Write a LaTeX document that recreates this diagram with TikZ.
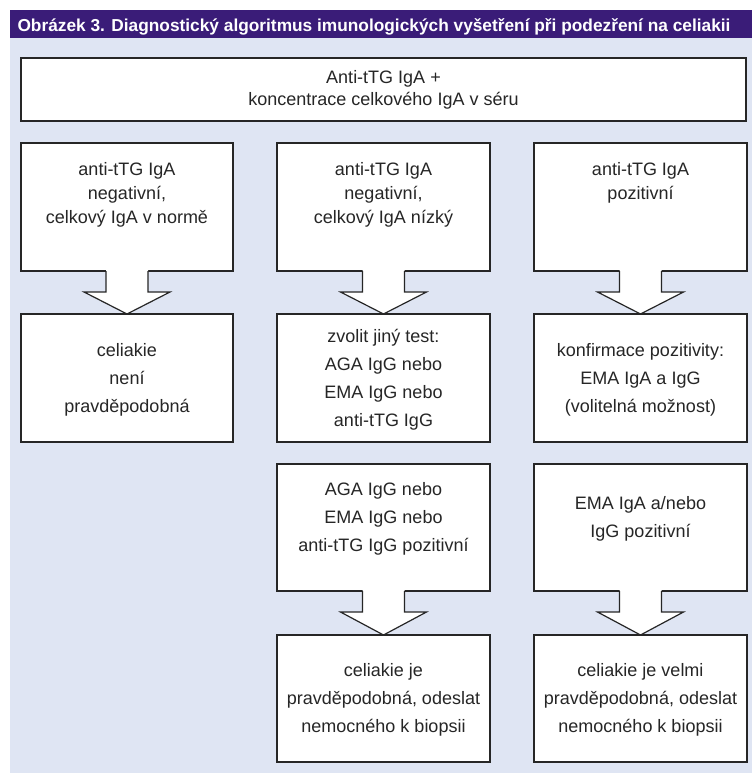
\documentclass[tikz,border=0pt]{standalone}
\usepackage{fontspec}
\setmainfont{Liberation Sans}
\usetikzlibrary{calc}
\definecolor{bgblue}{HTML}{DFE5F3}
\definecolor{hdr}{HTML}{3A1C78}
\definecolor{ink}{HTML}{262626}
\begin{document}
\begin{tikzpicture}[x=1pt,y=-1pt,
  box/.style={draw=ink, line width=1.2pt, fill=white, rectangle, inner sep=0pt, outer sep=0pt},
  txt/.style={align=center, text=ink, inner sep=0pt, font=\fontsize{18}{28}\selectfont},
  txtA/.style={align=center, text=ink, inner sep=0pt, font=\fontsize{18}{24}\selectfont},
  arrowline/.style={draw=ink, line width=1.2pt, line join=miter}]
\useasboundingbox (0,0) rectangle (752,773);
\fill[bgblue] (10,38.5) rectangle (752,773);
\fill[hdr] (10,10.5) rectangle (752,38.5);
\node[anchor=base west, text=white, inner sep=0pt, font=\fontsize{17.3}{20}\selectfont\bfseries] (title) at (17.3,31.7)
  {Obrázek 3. Diagnostický algoritmus imunologických vyšetření při podezření na celiakii};

% top box
\node[box, minimum width=725pt, minimum height=63pt, align=center, text=ink, font=\fontsize{18}{22}\selectfont] (top) at (383.5,89.5)
  {Anti-tTG IgA +\\koncentrace celkového IgA v séru};

% row 1
\node[box, minimum width=212pt, minimum height=128pt] (r1l) at (127,207) {};
\node[box, minimum width=213pt, minimum height=128pt] (r1m) at (383.5,207) {};
\node[box, minimum width=213pt, minimum height=128pt] (r1r) at (640.5,207) {};
% row 2
\node[box, minimum width=212pt, minimum height=128pt] (r2l) at (127,378) {};
\node[box, minimum width=213pt, minimum height=128pt] (r2m) at (383.5,378) {};
\node[box, minimum width=213pt, minimum height=128pt] (r2r) at (640.5,378) {};
% row 3
\node[box, minimum width=213pt, minimum height=127pt] (r3m) at (383.5,527.5) {};
\node[box, minimum width=213pt, minimum height=127pt] (r3r) at (640.5,527.5) {};
% row 4
\node[box, minimum width=213pt, minimum height=127pt] (r4m) at (383.5,698.5) {};
\node[box, minimum width=213pt, minimum height=127pt] (r4r) at (640.5,698.5) {};

% block arrows
\foreach \a/\b in {r1l/r2l, r1m/r2m, r1r/r2r, r3m/r4m, r3r/r4r}{
  \fill[white] ($(\a.south)+(-21,-1)$) -- ($(\a.south)+(-21,21)$) -- ($(\a.south)+(-43,21)$)
     -- (\b.north) -- ($(\a.south)+(43,21)$) -- ($(\a.south)+(21,21)$) -- ($(\a.south)+(21,-1)$) -- cycle;
  \draw[arrowline] ($(\a.south)+(-21,0)$) -- ($(\a.south)+(-21,21)$) -- ($(\a.south)+(-43,21)$)
     -- (\b.north) -- ($(\a.south)+(43,21)$) -- ($(\a.south)+(21,21)$) -- ($(\a.south)+(21,0)$);
}

% texts
\node[txtA, anchor=north] (t1l) at ($(r1l.north)+(0,18.8)$) {anti-tTG IgA\\negativní,\\celkový IgA v normě};
\node[txtA, anchor=north] (t1m) at ($(r1m.north)+(0,18.8)$) {anti-tTG IgA\\negativní,\\celkový IgA nízký};
\node[txtA, anchor=north] (t1r) at ($(r1r.north)+(0,18.8)$) {anti-tTG IgA\\pozitivní};

\node[txt] (t2l) at ($(r2l.center)+(0,2)$) {celiakie\\není\\pravděpodobná};
\node[txt] (t2m) at ($(r2m.center)+(0,2)$) {zvolit jiný test:\\AGA IgG nebo\\EMA IgG nebo\\anti-tTG IgG};
\node[txt] (t2r) at ($(r2r.center)+(0,2)$) {konfirmace pozitivity:\\EMA IgA a IgG\\(volitelná možnost)};

\node[txt, anchor=north] (t3m) at ($(r3m.north)+(0,17.8)$) {AGA IgG nebo\\EMA IgG nebo\\anti-tTG IgG pozitivní};
\node[txt, anchor=north] (t3r) at ($(r3r.north)+(0,31.8)$) {EMA IgA a/nebo\\IgG pozitivní};

\node[txt] (t4m) at ($(r4m.center)+(0,1)$) {celiakie je\\pravděpodobná, odeslat\\nemocného k biopsii};
\node[txt] (t4r) at ($(r4r.center)+(0,1)$) {celiakie je velmi\\pravděpodobná, odeslat\\nemocného k biopsii};
\end{tikzpicture}
\end{document}
